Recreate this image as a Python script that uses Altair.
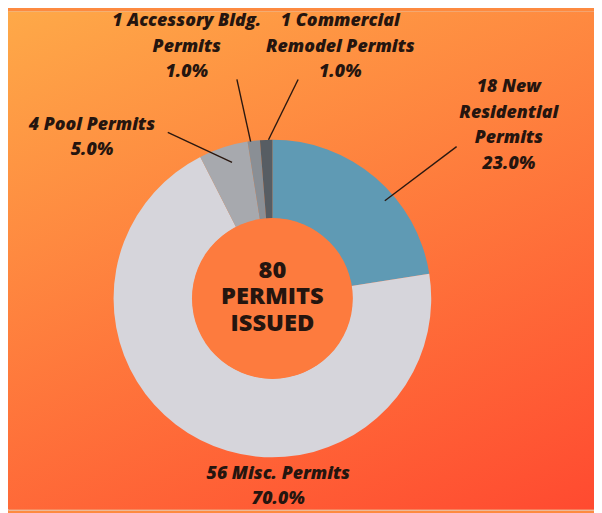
import math
import altair as alt
import pandas as pd

# ---- data ----
categories = ["New Residential", "Misc.", "Pool", "Accessory Bldg.", "Commercial Remodel"]
counts = [18, 56, 4, 1, 1]
pct_labels = ["23.0%", "70.0%", "5.0%", "1.0%", "1.0%"]
name_lines = [
    "{} New\nResidential\nPermits",
    "{} Misc. Permits",
    "{} Pool Permits",
    "{} Accessory Bldg.\nPermits",
    "{} Commercial\nRemodel Permits",
]
total_text = "80\nPERMITS\nISSUED"

# ---- style / layout ----
slice_colors = ["#5f9ab4", "#d6d5db", "#a7a9ae", "#8a8f95", "#575d63"]
W, H = 594, 505
CX, CY = 268, 291
R_OUT, R_IN = 161, 81
text_color = "#25150f"
LAB_LH = 26
CEN_LH = 27
# label block centre (angle deg clockwise from 12 o'clock, radius)
label_polar = [(53.8, 297), (178.2, 190.6), (311.7, 245), (341.2, 269.4), (15.1, 264.2)]
# leader line start / end (angle, radius); None = no leader
leader_start = [(50.5, 242), None, (327.8, 199), (350.8, 225), (6.7, 223.5)]
leader_end = [(49.0, 151), None, (343.5, 144), (352.1, 160.5), (358.6, 161)]


def polar(a, r):
    t = math.radians(a)
    return CX + r * math.sin(t), CY - r * math.cos(t)


df = pd.DataFrame({
    "category": categories,
    "count": counts,
    "idx": list(range(len(categories))),
})

lab_rows = []
for i, c in enumerate(categories):
    txt = name_lines[i].format(counts[i]) + "\n" + pct_labels[i]
    n = txt.count("\n") + 1
    x, y = polar(*label_polar[i])
    lab_rows.append({"x": x, "y": y - (n - 1) * LAB_LH / 2, "text": txt})
labels_df = pd.DataFrame(lab_rows)

lead_rows = []
for i in range(len(categories)):
    if leader_start[i] is None:
        continue
    x1, y1 = polar(*leader_start[i])
    x2, y2 = polar(*leader_end[i])
    lead_rows.append({"x": x1, "y": y1, "x2": x2, "y2": y2})
leaders_df = pd.DataFrame(lead_rows)

one = pd.DataFrame({"k": [0]})

bg = alt.Chart(one).mark_rect(
    color=alt.LinearGradient(
        gradient="linear",
        stops=[alt.GradientStop(color="#fea948", offset=0),
               alt.GradientStop(color="#ff4a30", offset=1)],
        x1=0, y1=0, x2=0.59, y2=1.2,
    )
).encode(x=alt.value(0), x2=alt.value(W), y=alt.value(0), y2=alt.value(H))

donut = alt.Chart(df).mark_arc(radius=R_OUT, radius2=R_IN).encode(
    theta=alt.Theta("count:Q", stack=True),
    color=alt.Color("category:N", scale=alt.Scale(domain=categories, range=slice_colors), legend=None),
    order=alt.Order("idx:Q"),
    x=alt.value(CX),
    y=alt.value(CY),
)

# Vega circle symbol: size is the area of the bounding square -> diameter = sqrt(size)
center = alt.Chart(one).mark_circle(opacity=1, color="#fd7b3e", size=(2 * (R_IN + 0.5)) ** 2).encode(
    x=alt.value(CX), y=alt.value(CY)
)

leaders = alt.Chart(leaders_df).mark_rule(color="#2a1810", strokeWidth=1.4).encode(
    x=alt.X("x:Q", scale=None), y=alt.Y("y:Q", scale=None),
    x2="x2:Q", y2="y2:Q",
)

labels = alt.Chart(labels_df).mark_text(
    font="Open Sans", fontSize=18, fontWeight=800, fontStyle="italic",
    color=text_color, lineBreak="\n", lineHeight=LAB_LH, align="center", baseline="middle",
).encode(x=alt.X("x:Q", scale=None), y=alt.Y("y:Q", scale=None), text="text:N")

center_text = alt.Chart(pd.DataFrame({"t": [total_text]})).mark_text(
    font="Open Sans", fontSize=24, fontWeight=800, color=text_color,
    lineBreak="\n", lineHeight=CEN_LH, align="center", baseline="middle",
).encode(x=alt.value(CX), y=alt.value(CY - 1 - CEN_LH), text="t:N")

chart = alt.layer(bg, donut, center, leaders, labels, center_text).properties(
    width=W, height=H, padding=0, autosize=alt.AutoSizeParams(type="none")
).configure_view(stroke=None).configure(background="#fd8a40")

chart.save("out.html", embed_options={"renderer": "svg", "actions": False})
